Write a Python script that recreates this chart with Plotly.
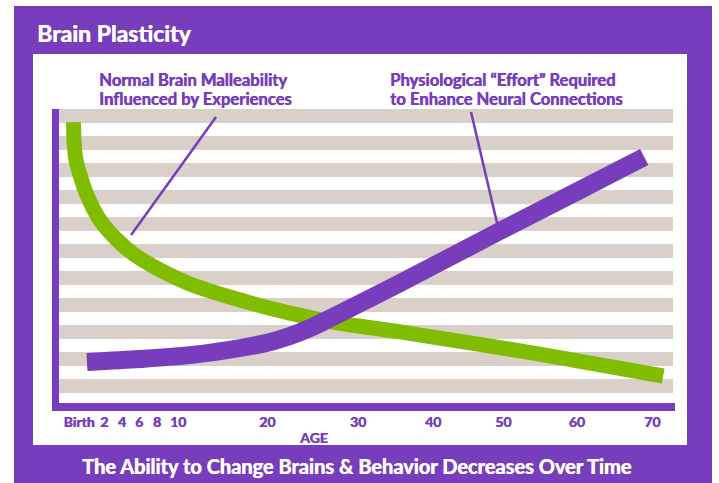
import plotly.graph_objects as go

W, H = 719, 483
PURPLE = "#773DBD"
GREEN = "#80BC00"
STRIPE = "#D9D0CA"
FONT = "Lato"

# ---- data (x in timeline units 0-100, y in plasticity units 0-100) ----
tick_labels = ["Birth", "2", "4", "6", "8", "10", "20", "30", "40", "50", "60", "70"]
tick_pos = [3.1, 7.2, 10.1, 12.9, 15.8, 19.25, 33.8, 48.6, 60.85, 72.3, 84.3, 96.6]

malleability_x = [2.2, 2.3, 2.6, 3.1, 4.4, 6.5, 9.0, 12.2, 16.3, 21.2, 29.4, 37.5, 44.5, 55.5, 66.9, 77.2, 88.1, 98.4]
malleability_y = [95.6, 89.0, 83.0, 79.0, 71.1, 62.8, 56.7, 51.0, 46.0, 41.3, 35.9, 31.5, 28.5, 25.2, 21.5, 18.1, 14.1, 10.4]

effort_x = [4.4, 13.0, 21.2, 29.4, 34.3, 37.5, 40.8, 44.5, 55.5, 71.8, 83.2, 95.3]
effort_y = [15.1, 16.1, 17.4, 19.8, 21.8, 23.8, 26.5, 30.2, 41.6, 59.1, 71.1, 83.9]

title_text = "Brain Plasticity"
note_left = ["Normal Brain Malleability", "Influenced by Experiences"]
note_right = ["Physiological \u201cEffort\u201d Required", "to Enhance Neural Connections"]
axis_title = "AGE"
caption = "The Ability to Change Brains &amp; Behavior Decreases Over Time"


def fx(px):
    return px / W


def fy(py):
    return 1 - py / H


def fnt(size, color):
    return dict(family=FONT, size=size, color=color, weight="bold",
                shadow="0.6px 0px 0px " + color)


fig = go.Figure()
fig.add_trace(go.Scatter(x=malleability_x, y=malleability_y, mode="lines",
                         line=dict(color=GREEN, width=15, shape="spline", smoothing=0.8),
                         hoverinfo="skip", showlegend=False))
fig.add_trace(go.Scatter(x=effort_x, y=effort_y, mode="lines",
                         line=dict(color=PURPLE, width=18, shape="spline", smoothing=0.8),
                         hoverinfo="skip", showlegend=False))

shapes = []
# outer purple frame and white panel
shapes.append(dict(type="rect", xref="paper", yref="paper", x0=fx(14), x1=fx(712), y0=fy(483), y1=fy(6),
                   fillcolor=PURPLE, line=dict(width=0), layer="below"))
shapes.append(dict(type="rect", xref="paper", yref="paper", x0=fx(33), x1=fx(687), y0=fy(445), y1=fy(54),
                   fillcolor="white", line=dict(width=0), layer="below"))
# stripes
for i in range(11):
    top = 109 + 27 * i
    shapes.append(dict(type="rect", xref="paper", yref="paper", x0=fx(59), x1=fx(673), y0=fy(top + 14), y1=fy(top),
                       fillcolor=STRIPE, line=dict(width=0), layer="below"))
# axis bars
shapes.append(dict(type="rect", xref="paper", yref="paper", x0=fx(52), x1=fx(59), y0=fy(411), y1=fy(109),
                   fillcolor=PURPLE, line=dict(width=0), layer="below"))
shapes.append(dict(type="rect", xref="paper", yref="paper", x0=fx(52), x1=fx(675), y0=fy(411), y1=fy(403),
                   fillcolor=PURPLE, line=dict(width=0), layer="below"))
# pointer lines
shapes.append(dict(type="line", xref="x", yref="y", x0=25.45, y0=97.3, x1=11.6, y1=57.7,
                   line=dict(color=PURPLE, width=2.5), layer="above"))
shapes.append(dict(type="line", xref="x", yref="y", x0=67.05, y0=99.0, x1=71.3, y1=61.7,
                   line=dict(color=PURPLE, width=2.5), layer="above"))

annotations = [
    dict(text=title_text, xref="paper", yref="paper", x=fx(35), y=fy(33), xanchor="left", yanchor="middle",
         showarrow=False, font=fnt(23, "white")),
    dict(text=axis_title, xref="paper", yref="paper", x=fx(313), y=fy(437), xanchor="center", yanchor="middle",
         showarrow=False, font=fnt(14, PURPLE)),
    dict(text=caption, xref="paper", yref="paper", x=fx(357), y=fy(466), xanchor="center", yanchor="middle",
         showarrow=False, font=fnt(20, "white")),
]
for i, line in enumerate(note_left):
    annotations.append(dict(text=line, xref="paper", yref="paper", x=fx(97), y=fy(79.5 + 19 * i),
                            xanchor="left", yanchor="middle", showarrow=False, font=fnt(16.6, PURPLE)))
for i, line in enumerate(note_right):
    annotations.append(dict(text=line, xref="paper", yref="paper", x=fx(388), y=fy(79.5 + 19 * i),
                            xanchor="left", yanchor="middle", showarrow=False, font=fnt(16.6, PURPLE)))

fig.update_layout(
    width=W, height=H, autosize=False,
    margin=dict(l=0, r=0, t=0, b=0, pad=0),
    paper_bgcolor="white", plot_bgcolor="rgba(0,0,0,0)",
    shapes=shapes, annotations=annotations, showlegend=False,
    xaxis=dict(domain=[fx(60), fx(673)], range=[0, 100], showgrid=False, zeroline=False, showline=False,
               tickmode="array", tickvals=tick_pos, ticktext=tick_labels,
               ticks="outside", ticklen=2, tickcolor="rgba(0,0,0,0)",
               tickfont=fnt(14, PURPLE), fixedrange=True),
    yaxis=dict(domain=[fy(407), fy(109)], range=[0, 100], visible=False, fixedrange=True),
)

fig.write_html("out.html")
